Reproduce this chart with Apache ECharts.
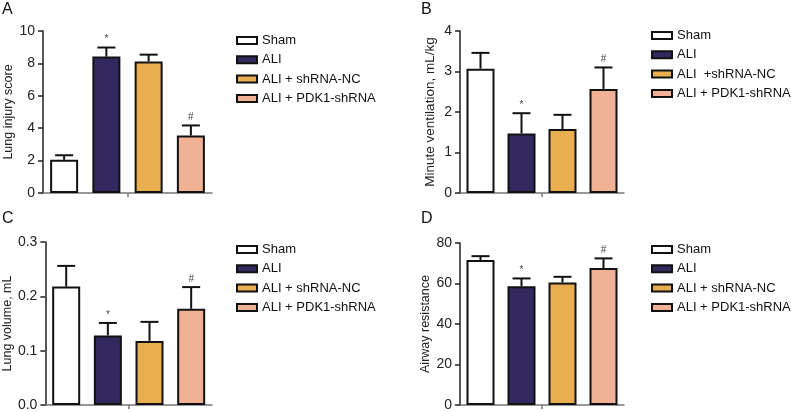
<!DOCTYPE html>
<html>
<head>
<meta charset="utf-8">
<script src="https://cdn.jsdelivr.net/npm/echarts@6/dist/echarts.min.js"></script>
<style>
  html, body { margin: 0; padding: 0; background: #fff; }
  #main { width: 791px; height: 412px; }
</style>
</head>
<body>
<div id="main"></div>
<script>
var groups = ['Sham', 'ALI', 'ALI + shRNA-NC', 'ALI + PDK1-shRNA'];
var groupsB = ['Sham', 'ALI', 'ALI  +shRNA-NC', 'ALI + PDK1-shRNA'];
var colors = ['#ffffff', '#33295f', '#e9ae50', '#f1b194'];
var marks = ['', '*', '', '#'];

var injuryMean = [2.05, 8.42, 8.12, 3.55];
var injurySd = [0.28, 0.56, 0.42, 0.62];
var ventMean = [3.07, 1.47, 1.58, 2.57];
var ventSd = [0.39, 0.5, 0.35, 0.53];
var volMean = [0.218, 0.128, 0.118, 0.177];
var volSd = [0.038, 0.023, 0.035, 0.04];
var resMean = [71.6, 58.6, 60.5, 67.6];
var resSd = [1.9, 3.9, 2.8, 4.8];

var panels = [
    { letter: 'A', name: 'Lung injury score', mean: injuryMean, sd: injurySd, max: 10, step: 2, dec: 0,
      grid: { left: 43, top: 31, width: 169, height: 162 }, nameGap: 26, nameSize: 12.5, legend: [231, 29], labels: groups },
    { letter: 'B', name: 'Minute ventilation, mL/kg', mean: ventMean, sd: ventSd, max: 4, step: 1, dec: 0,
      grid: { left: 460, top: 31, width: 164, height: 162 }, nameGap: 23, nameSize: 13.5, legend: [646, 24], labels: groupsB },
    { letter: 'C', name: 'Lung volume, mL', mean: volMean, sd: volSd, max: 0.3, step: 0.1, dec: 1,
      grid: { left: 43, top: 242, width: 169, height: 163 }, nameGap: 29, nameSize: 12.5, legend: [231, 238], labels: groups },
    { letter: 'D', name: 'Airway resistance', mean: resMean, sd: resSd, max: 80, step: 20, dec: 0,
      grid: { left: 460, top: 243, width: 164, height: 162 }, nameGap: 25, nameSize: 12.5, legend: [646, 238], labels: groups }
];

var font = 'Liberation Sans, Arial, Helvetica, sans-serif';
var option = {
    backgroundColor: '#fff',
    animation: false,
    title: [],
    grid: [],
    xAxis: [],
    yAxis: [],
    legend: [],
    series: []
};

panels.forEach(function (p, k) {
    option.title.push({
        text: p.letter,
        left: k % 2 ? 416 : -3,
        top: k < 2 ? -3 : 206,
        textStyle: { fontSize: 16, fontWeight: 'normal', color: '#111', fontFamily: font }
    });
    option.grid.push(p.grid);
    // bars axis
    option.xAxis.push({
        type: 'category', gridIndex: k, data: groups,
        axisLine: { show: false }, axisTick: { show: false }, axisLabel: { show: false }
    });
    // visible axis with one centre tick
    option.xAxis.push({
        type: 'category', gridIndex: k, data: [''], position: 'bottom',
        axisLine: { show: true, lineStyle: { color: '#777', width: 1.5 } },
        axisTick: { show: true, alignWithLabel: true, length: 4, lineStyle: { color: '#777', width: 1.5 } },
        axisLabel: { show: false }
    });
    option.yAxis.push({
        type: 'value', gridIndex: k, min: 0, max: p.max, interval: p.step,
        name: p.name, nameLocation: 'middle', nameGap: p.nameGap, nameRotate: 90,
        nameTextStyle: { fontSize: p.nameSize, color: '#222', fontFamily: font },
        axisLine: { show: true, lineStyle: { color: '#222', width: 1.5 } },
        axisTick: { show: true, length: 5, lineStyle: { color: '#222', width: 1.5 } },
        axisLabel: {
            fontSize: 14, color: '#222', fontFamily: font, margin: 8,
            formatter: function (v) { return v.toFixed(p.dec); }
        },
        splitLine: { show: false }
    });
    var labels = p.labels;
    option.legend.push({
        orient: 'vertical', left: p.legend[0], top: p.legend[1],
        data: groups, itemWidth: 20, itemHeight: 7, itemGap: 6.3,
        icon: 'rect',
        textStyle: { fontSize: 13, color: '#111', fontFamily: font, lineHeight: 13 },
        formatter: function (n) { return labels[groups.indexOf(n)]; }
    });
    groups.forEach(function (g, i) {
        var d = groups.map(function (x, j) { return j === i ? p.mean[i] : '-'; });
        option.series.push({
            type: 'bar', name: g, xAxisIndex: 2 * k, yAxisIndex: k,
            data: d, barWidth: 28, barGap: '-100%',
            itemStyle: { color: colors[i], borderColor: '#111', borderWidth: 2 }
        });
    });
    option.series.push({
        type: 'custom', xAxisIndex: 2 * k, yAxisIndex: k, z: 5,
        data: p.mean.map(function (m, i) { return [i, m, p.sd[i]]; }),
        encode: { x: 0, y: 1 },
        renderItem: function (params, api) {
            var base = api.coord([api.value(0), api.value(1)]);
            var top = api.coord([api.value(0), api.value(1) + api.value(2)]);
            var st = { stroke: '#111', lineWidth: 2 };
            return {
                type: 'group',
                children: [
                    { type: 'line', shape: { x1: base[0], y1: base[1], x2: top[0], y2: top[1] }, style: st },
                    { type: 'line', shape: { x1: top[0] - 9, y1: top[1], x2: top[0] + 9, y2: top[1] }, style: st },
                    { type: 'text', x: top[0], y: top[1] - 3,
                      style: { text: marks[params.dataIndex], fontSize: 10, fill: '#444',
                               align: 'center', verticalAlign: 'bottom', fontFamily: font } }
                ]
            };
        }
    });
});

var chart = echarts.init(document.getElementById('main'));
chart.setOption(option);
</script>
</body>
</html>
